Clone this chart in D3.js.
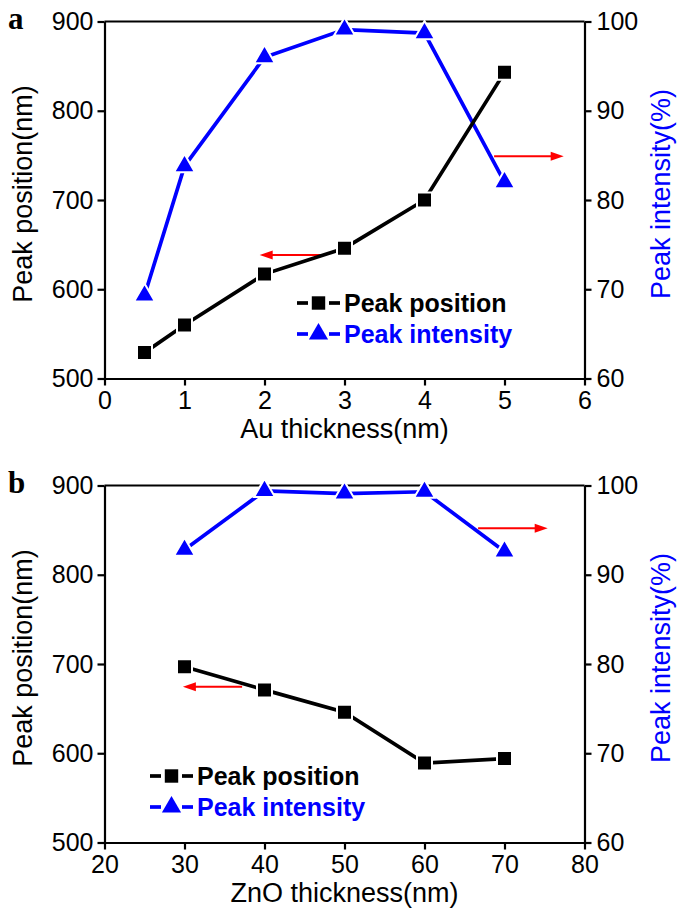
<!DOCTYPE html>
<html>
<head>
<meta charset="utf-8">
<script src="https://cdn.jsdelivr.net/npm/d3@7"></script>
<style>
  html, body { margin: 0; padding: 0; background: #fff; }
  svg { display: block; }
</style>
</head>
<body>
<script>
// ---------- data ----------
const auThickness = [0.5, 1, 2, 3, 4, 5];
const auPeakPosition = [529, 560, 617, 646, 700, 843];
const auPeakIntensity = [69.3, 83.8, 96.0, 99.1, 98.7, 82.0];

const znoThickness = [30, 40, 50, 60, 70];
const znoPeakPosition = [697, 671, 646, 589, 594];
const znoPeakIntensity = [92.8, 99.4, 99.1, 99.3, 92.6];

const auXTicks = [0, 1, 2, 3, 4, 5, 6];
const znoXTicks = [20, 30, 40, 50, 60, 70, 80];
const positionTicks = [500, 600, 700, 800, 900];
const intensityTicks = [60, 70, 80, 90, 100];

const legendLabels = ["Peak position", "Peak intensity"];
// arrows in data units (x, left-axis y)
const auArrows = [{x1: 4.87, x2: 5.74, y: 749}, {x1: 2.71, x2: 1.94, y: 638.5}];
const znoArrows = [{x1: 66.7, x2: 75.4, y: 852}, {x1: 37.2, x2: 29.8, y: 674.5}];

// ---------- drawing ----------
const W = 685, H = 919;
const SANS = "'Liberation Sans', Arial, sans-serif";
const SERIF = "'Liberation Serif', 'Times New Roman', serif";
const svg = d3.select("body").append("svg").attr("width", W).attr("height", H)
  .style("font-family", SANS);
const BLUE = "#0000ff", RED = "#ff0000";

function drawPanel(o) {
  const left = 104.5, right = 584.5;
  const x = d3.scaleLinear().domain(o.xDomain).range([left, right]);
  const yL = d3.scaleLinear().domain([500, 900]).range([o.bottom, o.top]);
  const yR = d3.scaleLinear().domain([60, 100]).range([o.bottom, o.top]);
  const g = svg.append("g");

  const styleAxis = (sel) => {
    sel.selectAll("path").attr("stroke", "#000").attr("stroke-width", 2.2);
    sel.selectAll("line").attr("stroke", "#000").attr("stroke-width", 2.2);
    sel.selectAll("text").style("font-size", "25px").style("font-family", SANS).attr("fill", "#000");
  };

  // top frame line
  g.append("line").attr("x1", left).attr("x2", right).attr("y1", o.top).attr("y2", o.top)
    .attr("stroke", "#000").attr("stroke-width", 2.2);

  g.append("g").attr("transform", `translate(0,${o.bottom})`)
    .call(d3.axisBottom(x).tickValues(o.xTicks).tickSize(7).tickSizeOuter(0).tickPadding(6).tickFormat(d3.format("d")))
    .call(styleAxis);
  g.append("g").attr("transform", `translate(${left},0)`)
    .call(d3.axisLeft(yL).tickValues(positionTicks).tickSize(7).tickSizeOuter(0).tickPadding(4))
    .call(styleAxis);
  g.append("g").attr("transform", `translate(${right},0)`)
    .call(d3.axisRight(yR).tickValues(intensityTicks).tickSize(7).tickSizeOuter(0).tickPadding(5))
    .call(styleAxis);

  // axis titles
  g.append("text").attr("x", (left + right) / 2).attr("y", o.bottom + 59)
    .attr("text-anchor", "middle").style("font-size", "27px").text(o.xTitle);
  const cy = (o.top + o.bottom) / 2 - 6;
  g.append("text").attr("transform", `translate(32,${cy}) rotate(-90)`)
    .attr("text-anchor", "middle").style("font-size", "27px").text("Peak position(nm)");
  g.append("text").attr("transform", `translate(670,${cy}) rotate(-90)`)
    .attr("text-anchor", "middle").style("font-size", "27px").attr("fill", BLUE).text("Peak intensity(%)");

  // panel letter
  g.append("text").attr("x", 8).attr("y", o.top + 7)
    .style("font-family", SERIF).style("font-weight", "bold")
    .style("font-size", "31px").text(o.letter);

  // red arrows
  o.arrows.forEach(a => {
    const x1 = x(a.x1), x2 = x(a.x2), yy = yL(a.y);
    const dir = Math.sign(x2 - x1);
    g.append("line").attr("x1", x1).attr("x2", x2 - dir * 10).attr("y1", yy).attr("y2", yy)
      .attr("stroke", RED).attr("stroke-width", 2);
    g.append("path").attr("d", `M${x2},${yy} L${x2 - dir * 13},${yy - 4.5} L${x2 - dir * 13},${yy + 4.5} Z`)
      .attr("fill", RED);
  });

  // lines
  const pos = o.xs.map((d, i) => [d, o.position[i]]);
  const inten = o.xs.map((d, i) => [d, o.intensity[i]]);
  g.append("path").datum(inten).attr("fill", "none").attr("stroke", BLUE).attr("stroke-width", 3.7)
    .attr("d", d3.line().x(d => x(d[0])).y(d => yR(d[1])));
  g.append("path").datum(pos).attr("fill", "none").attr("stroke", "#000").attr("stroke-width", 3.7)
    .attr("d", d3.line().x(d => x(d[0])).y(d => yL(d[1])));

  const sq = d3.symbol().type(d3.symbolSquare).size(225);
  const tri = d3.symbol().type(d3.symbolTriangle).size(190);
  g.selectAll(".tri").data(inten).join("path")
    .attr("transform", d => `translate(${x(d[0])},${yR(d[1])})`)
    .attr("d", tri).attr("fill", BLUE).attr("stroke", "#fff").attr("stroke-width", 2);
  g.selectAll(".sq").data(pos).join("path")
    .attr("transform", d => `translate(${x(d[0])},${yL(d[1])})`)
    .attr("d", sq).attr("fill", "#000").attr("stroke", "#fff").attr("stroke-width", 2);

  // legend
  const lg = g.append("g").attr("transform", `translate(${o.legend[0]},${o.legend[1]})`);
  const items = [
    {label: legendLabels[0], color: "#000", sym: d3.symbol().type(d3.symbolSquare).size(180), dy: 0},
    {label: legendLabels[1], color: BLUE, sym: d3.symbol().type(d3.symbolTriangle).size(160), dy: 31}
  ];
  items.forEach(it => {
    const yy = it.dy - 9;
    lg.append("line").attr("x1", 0).attr("x2", 11).attr("y1", yy).attr("y2", yy)
      .attr("stroke", it.color).attr("stroke-width", 3.7);
    lg.append("line").attr("x1", 32).attr("x2", 43).attr("y1", yy).attr("y2", yy)
      .attr("stroke", it.color).attr("stroke-width", 3.7);
    lg.append("path").attr("transform", `translate(21.5,${yy})`).attr("d", it.sym)
      .attr("fill", it.color);
    lg.append("text").attr("x", 47).attr("y", it.dy).style("font-size", "25px").style("font-weight", "bold")
      .attr("fill", it.color).text(it.label);
  });
}

drawPanel({
  xDomain: [0, 6], xTicks: auXTicks, xs: auThickness,
  position: auPeakPosition, intensity: auPeakIntensity,
  top: 21.5, bottom: 378.5, xTitle: "Au thickness(nm)", letter: "a",
  arrows: auArrows, legend: [297, 312]
});
drawPanel({
  xDomain: [20, 80], xTicks: znoXTicks, xs: znoThickness,
  position: znoPeakPosition, intensity: znoPeakIntensity,
  top: 485.5, bottom: 842.5, xTitle: "ZnO thickness(nm)", letter: "b",
  arrows: znoArrows, legend: [150, 785]
});
</script>
</body>
</html>
